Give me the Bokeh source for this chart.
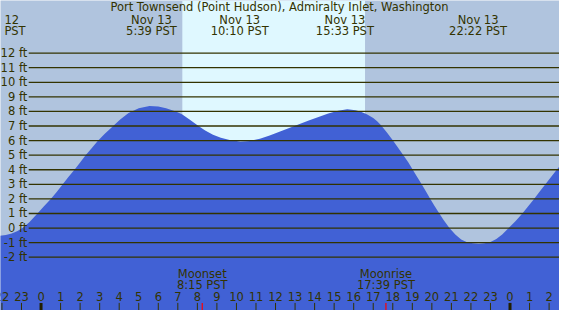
from bokeh.plotting import figure
from bokeh.models import Range1d
from bokeh.core.properties import value
from bokeh.embed import file_html
from bokeh.resources import INLINE

# ---------------- data ----------------
TITLE = "Port Townsend (Point Hudson), Admiralty Inlet, Washington"
DATE_LABEL = "Nov 13"

# tide curve: hours after midnight Nov 13 (PST) and height in feet
HOURS = [-2.1, -1.8, -1.5, -1.2, -0.9, -0.6, -0.22, 0.15, 0.5, 0.8, 1.11, 1.4,
         1.71, 2.0, 2.27, 2.6, 2.9, 3.25, 3.65, 4.05, 4.48, 5.0, 5.55, 6.0,
         6.4, 6.9, 7.21, 7.6, 8.04, 8.4, 8.8, 9.2, 9.7, 10.2, 10.7, 11.2,
         11.7, 12.2, 12.7, 13.2, 13.7, 14.2, 14.7, 15.2, 15.67, 16.1, 16.4,
         16.67, 17.0, 17.2, 17.4, 17.7, 18.0, 18.3, 18.57, 18.8, 19.0, 19.25,
         19.48, 19.7, 19.9, 20.1, 20.31, 20.6, 20.9, 21.2, 21.5, 21.8, 22.1,
         22.4, 22.7, 23.0, 23.3, 23.6, 23.93, 24.3, 24.63, 24.9, 25.2, 25.5,
         25.79, 26.1, 26.37, 26.6]
FEET = [-0.52, -0.48, -0.38, -0.2, 0.05, 0.4, 0.95, 1.5, 2.0, 2.48, 3.0, 3.5,
        4.0, 4.5, 4.97, 5.5, 5.98, 6.45, 6.95, 7.45, 7.9, 8.22, 8.37, 8.33,
        8.22, 8.0, 7.8, 7.45, 7.02, 6.7, 6.4, 6.2, 6.02, 5.93, 5.98, 6.13,
        6.35, 6.6, 6.87, 7.12, 7.37, 7.62, 7.86, 8.05, 8.15, 8.08, 7.96,
        7.8, 7.55, 7.32, 7.05, 6.55, 6.02, 5.45, 4.95, 4.5, 4.05, 3.5,
        3.0, 2.5, 2.05, 1.6, 1.15, 0.55, 0.0, -0.45, -0.78, -0.97, -1.05,
        -1.07, -1.04, -0.95, -0.75, -0.45, 0.0, 0.5, 1.0, 1.45, 1.95, 2.47,
        2.97, 3.5, 3.97, 4.35]

# high / low tide events
TIDE_HOURS = [5.65, 10.167, 15.55, 22.367]
TIDE_TIMES = ["5:39 PST", "10:10 PST", "15:33 PST", "22:22 PST"]

# daylight
SUNRISE_H = 7.23
SUNSET_H = 16.58

# moon events
MOON_HOURS = [8.25, 17.65]
MOON_NAMES = ["Moonset", "Moonrise"]
MOON_TIMES = ["8:15 PST", "17:39 PST"]

# axis levels and hour ticks
LEVELS = [-2, -1, 0, 1, 2, 3, 4, 5, 6, 7, 8, 9, 10, 11, 12]
LEVEL_LABELS = [f"{v} ft" for v in LEVELS]
TICK_HOURS = list(range(-2, 27))
TICK_LABELS = [str(h % 24) for h in TICK_HOURS]
MIDNIGHTS = [0, 24]

# ---------------- layout / style ----------------
W, H = 559, 310
REF_W, REF_H = 575, 326
X_MIN, X_MAX = -41.7 / 20.1, (575 - 41.7) / 20.1
Y_MIN, Y_MAX = (239.3 - 326) / 15.33, 239.3 / 15.33

NIGHT = "#B0C4DE"
DAY = "#DFF8FF"
WATER = "#4161D5"
INK = "#333300"
FONT = value("DejaVu Sans")
FS = "11.5px"


def px_x(x):
    return X_MIN + x / REF_W * (X_MAX - X_MIN)


def px_y(y):
    return Y_MAX - y / REF_H * (Y_MAX - Y_MIN)


p = figure(width=W, height=H, x_range=Range1d(X_MIN, X_MAX), y_range=Range1d(Y_MIN, Y_MAX),
           output_backend="svg", toolbar_location=None, min_border=0,
           x_axis_type=None, y_axis_type=None,
           background_fill_color=NIGHT, border_fill_color=NIGHT, outline_line_color=None)
p.grid.visible = False

# daylight band
p.quad(left=[SUNRISE_H], right=[SUNSET_H], bottom=[Y_MIN], top=[Y_MAX],
       fill_color=DAY, line_color=None)

# water
p.varea(x=HOURS, y1=[Y_MIN] * len(HOURS), y2=FEET, fill_color=WATER)

# level lines
p.segment(x0=[px_x(29)] * len(LEVELS), x1=[X_MAX] * len(LEVELS), y0=LEVELS, y1=LEVELS,
          line_color=INK, line_width=1.3)
p.text(x=[px_x(27.5)] * len(LEVELS), y=LEVELS, text=LEVEL_LABELS, text_align="right",
       text_baseline="middle", text_font=FONT, text_font_size=FS, text_color=INK)

# hour ticks
tick_y0, tick_y1 = px_y(318), Y_MIN
reg = [h for h in TICK_HOURS if h not in MIDNIGHTS]
p.segment(x0=reg, x1=reg, y0=[tick_y0] * len(reg), y1=[tick_y1] * len(reg),
          line_color=INK, line_width=1)
p.segment(x0=MIDNIGHTS, x1=MIDNIGHTS, y0=[tick_y0] * 2, y1=[tick_y1] * 2,
          line_color="#221f00", line_width=3)
p.segment(x0=MOON_HOURS, x1=MOON_HOURS, y0=[tick_y0] * 2, y1=[tick_y1] * 2,
          line_color="#ff0000", line_width=1.2)
p.text(x=TICK_HOURS, y=[px_y(311)] * len(TICK_HOURS), text=TICK_LABELS, text_align="center",
       text_baseline="middle", text_font=FONT, text_font_size=FS, text_color=INK)

# moon labels
p.text(x=MOON_HOURS, y=[px_y(287.5)] * 2, text=MOON_NAMES, text_align="center",
       text_baseline="middle", text_font=FONT, text_font_size=FS, text_color=INK)
p.text(x=MOON_HOURS, y=[px_y(299.5)] * 2, text=MOON_TIMES, text_align="center",
       text_baseline="middle", text_font=FONT, text_font_size=FS, text_color=INK)

# top labels
p.text(x=[px_x(287)], y=[px_y(7)], text=[TITLE], text_align="center",
       text_baseline="middle", text_font=FONT, text_font_size=FS, text_color=INK)
p.text(x=TIDE_HOURS, y=[px_y(20)] * 4, text=[DATE_LABEL] * 4, text_align="center",
       text_baseline="middle", text_font=FONT, text_font_size=FS, text_color=INK)
p.text(x=TIDE_HOURS, y=[px_y(32)] * 4, text=TIDE_TIMES, text_align="center",
       text_baseline="middle", text_font=FONT, text_font_size=FS, text_color=INK)
p.text(x=[px_x(4)] * 2, y=[px_y(20), px_y(32)], text=["12", "PST"], text_align="left",
       text_baseline="middle", text_font=FONT, text_font_size=FS, text_color=INK)

open("out.html", "w").write(file_html(p, INLINE))
